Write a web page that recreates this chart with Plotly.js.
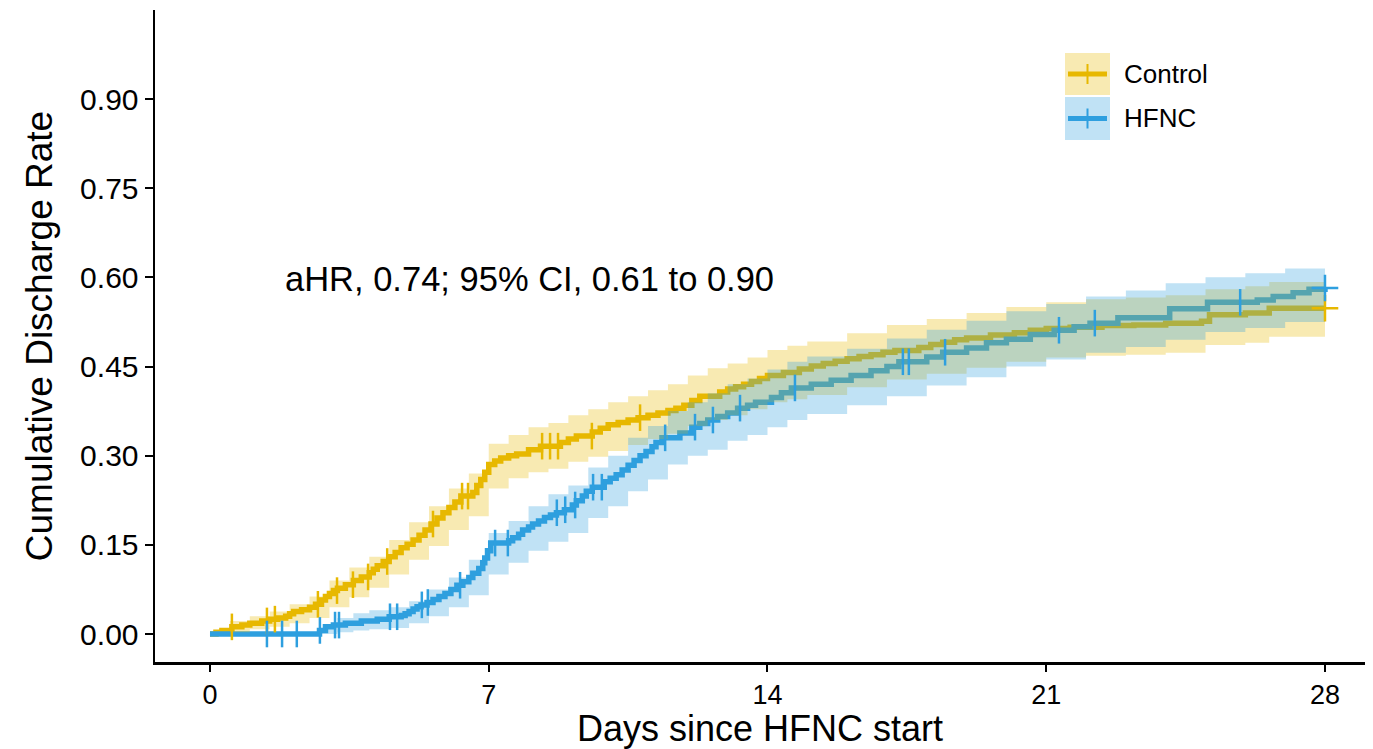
<!DOCTYPE html>
<html>
<head>
<meta charset="utf-8">
<script src="https://cdn.plot.ly/plotly-3.0.1.min.js"></script>
<style>
html,body{margin:0;padding:0;background:#fff;}
#chart{width:1373px;height:749px;}
</style>
</head>
<body>
<div id="chart"></div>
<script>
// ---- data ----
const xTickVals = [0, 7, 14, 21, 28];
const yTickVals = [0, 0.15, 0.30, 0.45, 0.60, 0.75, 0.90];

const controlTime = [0,0.15,0.3,0.55,0.8,1.0,1.3,1.5,1.7,1.9,2.0,2.1,2.3,2.5,2.65,2.8,2.9,3.0,3.1,3.2,3.4,3.6,3.8,4.0,4.1,4.2,4.35,4.5,4.65,4.8,4.95,5.1,5.25,5.4,5.55,5.7,5.85,6.0,6.15,6.3,6.6,6.7,6.8,6.9,7.0,7.15,7.3,7.5,7.7,8.0,8.3,8.8,9.0,9.2,9.6,9.8,10.0,10.25,10.5,10.75,11.0,11.25,11.5,11.7,11.9,12.1,12.3,12.8,13.0,13.2,13.4,13.6,13.8,14.0,14.4,14.8,15.1,15.4,15.7,16.0,16.3,16.6,16.9,17.2,17.8,18.1,18.4,18.7,19.0,19.6,20.2,20.6,21.0,21.6,22.4,23.2,24.0,24.9,25.1,26.0,26.6,28];
const controlRate = [0,0.003,0.006,0.012,0.015,0.018,0.022,0.025,0.027,0.03,0.034,0.038,0.041,0.045,0.05,0.057,0.063,0.068,0.073,0.077,0.083,0.09,0.096,0.103,0.109,0.115,0.122,0.13,0.137,0.145,0.151,0.158,0.166,0.175,0.185,0.195,0.204,0.213,0.222,0.232,0.238,0.25,0.26,0.272,0.285,0.291,0.296,0.3,0.303,0.31,0.316,0.322,0.328,0.333,0.34,0.346,0.352,0.356,0.36,0.364,0.368,0.372,0.376,0.38,0.385,0.393,0.4,0.407,0.412,0.416,0.42,0.425,0.43,0.435,0.44,0.446,0.451,0.455,0.459,0.463,0.467,0.47,0.474,0.477,0.482,0.487,0.491,0.495,0.498,0.503,0.507,0.511,0.514,0.516,0.519,0.52,0.523,0.526,0.537,0.54,0.548,0.548];

const hfncTime = [0,2.75,2.9,3.1,3.4,3.8,4.2,4.5,4.8,4.9,5.0,5.1,5.2,5.3,5.45,5.6,5.75,5.9,6.05,6.2,6.35,6.5,6.6,6.75,6.85,6.9,6.97,7.05,7.5,7.6,7.75,7.85,8.0,8.1,8.25,8.4,8.55,8.7,8.9,9.1,9.2,9.35,9.45,9.6,9.9,10.05,10.2,10.35,10.5,10.65,10.8,10.95,11.1,11.2,11.35,11.8,12.1,12.3,12.5,12.75,13.0,13.25,13.5,13.7,14.1,14.35,14.6,15.1,15.6,16.1,16.6,17.0,17.3,18.0,18.4,19.0,19.5,20.0,20.6,21.2,21.7,22.1,22.8,24.1,25.05,26.3,26.7,27.2,27.6,28];
const hfncRate = [0,0.006,0.012,0.015,0.018,0.022,0.025,0.029,0.031,0.034,0.038,0.042,0.046,0.049,0.053,0.058,0.063,0.068,0.075,0.082,0.088,0.095,0.102,0.11,0.12,0.128,0.14,0.153,0.157,0.162,0.168,0.175,0.18,0.185,0.19,0.196,0.2,0.204,0.209,0.217,0.224,0.232,0.24,0.247,0.256,0.262,0.268,0.276,0.284,0.292,0.3,0.307,0.315,0.322,0.33,0.338,0.348,0.354,0.36,0.366,0.372,0.38,0.385,0.39,0.398,0.406,0.414,0.42,0.427,0.435,0.443,0.45,0.458,0.466,0.474,0.481,0.49,0.496,0.504,0.511,0.517,0.523,0.532,0.547,0.558,0.562,0.568,0.574,0.58,0.582];

const controlCensor = [0.55,1.43,1.63,2.71,3.19,3.59,3.97,4.45,5.60,6.33,6.48,8.34,8.54,8.74,9.59,10.8,28];
const hfncCensor = [1.43,1.81,2.18,2.76,3.14,3.24,4.52,4.70,5.32,5.47,6.28,7.16,7.48,8.71,8.92,9.17,9.62,9.84,11.43,12.18,12.63,13.31,14.69,17.40,17.55,18.46,21.32,22.22,25.87,28];

const controlBandTime = [0,0.5,1.0,1.5,2.0,2.5,3.0,3.5,4.0,4.5,5.0,5.5,6.0,6.5,7.0,7.5,8.0,8.5,9.0,9.5,10.0,10.5,11.0,11.5,12.0,12.5,13.0,13.5,14.0,14.5,15.0,16.0,17.0,18.0,19.0,20.0,21.0,22.0,23.0,24.0,25.0,26.0,26.6,28];
const controlLower = [0,0.003,0.008,0.012,0.018,0.027,0.045,0.062,0.078,0.1,0.125,0.148,0.175,0.198,0.245,0.262,0.272,0.278,0.29,0.298,0.308,0.318,0.328,0.337,0.35,0.36,0.368,0.378,0.39,0.395,0.402,0.415,0.428,0.438,0.448,0.458,0.465,0.468,0.47,0.473,0.486,0.49,0.5,0.5];
const controlUpper = [0,0.022,0.03,0.038,0.05,0.063,0.09,0.112,0.13,0.158,0.188,0.215,0.245,0.27,0.32,0.335,0.348,0.355,0.368,0.378,0.39,0.4,0.41,0.42,0.435,0.447,0.455,0.465,0.478,0.485,0.492,0.506,0.52,0.53,0.54,0.55,0.558,0.563,0.566,0.57,0.58,0.585,0.592,0.592];

const hfncBandTime = [0,2.7,2.9,3.2,3.6,4.0,4.5,5.0,5.5,6.0,6.5,7.0,7.5,8.0,8.5,9.0,9.5,10.0,10.5,11.0,11.5,12.0,12.5,13.0,13.5,14.0,14.5,15.0,16.0,17.0,18.0,19.0,20.0,21.0,22.0,23.0,24.0,25.0,26.0,27.0,28];
const hfncLower = [0,0,0,0.003,0.006,0.008,0.01,0.018,0.03,0.045,0.065,0.1,0.12,0.14,0.155,0.17,0.195,0.215,0.24,0.26,0.285,0.3,0.31,0.325,0.335,0.348,0.36,0.37,0.385,0.4,0.418,0.432,0.45,0.462,0.473,0.483,0.495,0.508,0.515,0.525,0.535];
const hfncUpper = [0,0.003,0.015,0.027,0.035,0.04,0.045,0.055,0.075,0.095,0.125,0.17,0.19,0.215,0.235,0.25,0.28,0.3,0.33,0.35,0.375,0.39,0.405,0.42,0.43,0.445,0.458,0.467,0.48,0.497,0.512,0.527,0.543,0.555,0.568,0.578,0.59,0.6,0.607,0.615,0.626];

// ---- styling ----
const yellow = '#E7B800';
const blue = '#2E9FDF';
const yellowFill = 'rgba(231,184,0,0.3)';
const blueFill = 'rgba(46,159,223,0.3)';
const FONT = 'Liberation Sans, Arial, Helvetica, sans-serif';
const LINE_W = 5.5;

function stepValue(times, vals, t) {
  let v = vals[0];
  for (let i = 0; i < times.length; i++) { if (times[i] <= t) v = vals[i]; }
  return v;
}
function censorSymbols(times) {
  return times.map(t => (t >= 28 ? 'cross-thin' : 'line-ns'));
}

const traces = [
  {x: controlTime, y: controlRate, mode: 'lines', line: {color: yellow, width: LINE_W, shape: 'hv'}, showlegend: false, hoverinfo: 'skip'},
  {x: hfncTime, y: hfncRate, mode: 'lines', line: {color: blue, width: LINE_W, shape: 'hv'}, showlegend: false, hoverinfo: 'skip'},
  {x: controlBandTime, y: controlLower, mode: 'lines', line: {width: 0, shape: 'hv'}, showlegend: false, hoverinfo: 'skip'},
  {x: controlBandTime, y: controlUpper, mode: 'lines', line: {width: 0, shape: 'hv'}, fill: 'tonexty', fillcolor: yellowFill, showlegend: false, hoverinfo: 'skip'},
  {x: hfncBandTime, y: hfncLower, mode: 'lines', line: {width: 0, shape: 'hv'}, showlegend: false, hoverinfo: 'skip'},
  {x: hfncBandTime, y: hfncUpper, mode: 'lines', line: {width: 0, shape: 'hv'}, fill: 'tonexty', fillcolor: blueFill, showlegend: false, hoverinfo: 'skip'},
  {x: controlCensor, y: controlCensor.map(t => stepValue(controlTime, controlRate, t)), mode: 'markers',
   marker: {symbol: censorSymbols(controlCensor), size: 19, color: yellow, line: {color: yellow, width: 2.5}}, showlegend: false, hoverinfo: 'skip'},
  {x: hfncCensor, y: hfncCensor.map(t => stepValue(hfncTime, hfncRate, t)), mode: 'markers',
   marker: {symbol: censorSymbols(hfncCensor), size: 19, color: blue, line: {color: blue, width: 2.5}}, showlegend: false, hoverinfo: 'skip'}
];

// legend (drawn manually to mimic ggplot keys)
function px2x(p){ return (p - 155) / 1210; }
function px2y(p){ return (662 - p) / 652; }
const legendItems = [
  {name: 'Control', color: yellow, fill: yellowFill, top: 53, bottom: 95},
  {name: 'HFNC', color: blue, fill: blueFill, top: 97, bottom: 140}
];
const shapes = [];
const annotations = [];
legendItems.forEach(it => {
  const mid = (it.top + it.bottom) / 2;
  shapes.push({type: 'rect', xref: 'paper', yref: 'paper', x0: px2x(1065), x1: px2x(1110), y0: px2y(it.bottom), y1: px2y(it.top), fillcolor: it.fill, line: {width: 0}});
  shapes.push({type: 'line', xref: 'paper', yref: 'paper', x0: px2x(1068), x1: px2x(1107), y0: px2y(mid), y1: px2y(mid), line: {color: it.color, width: 5}});
  shapes.push({type: 'line', xref: 'paper', yref: 'paper', x0: px2x(1087.5), x1: px2x(1087.5), y0: px2y(mid + 10), y1: px2y(mid - 10), line: {color: it.color, width: 2}});
  annotations.push({xref: 'paper', yref: 'paper', x: px2x(1122), y: px2y(mid), xanchor: 'left', yanchor: 'middle', text: it.name, showarrow: false, font: {family: FONT, size: 26, color: '#000'}});
});
annotations.push({xref: 'x', yref: 'y', x: 1.83, y: 0.597, xanchor: 'left', yanchor: 'middle', text: 'aHR, 0.74; 95% CI, 0.61 to 0.90', showarrow: false, font: {family: FONT, size: 34.5, color: '#000'}});

const layout = {
  width: 1373, height: 749,
  margin: {l: 155, r: 8, t: 10, b: 87},
  paper_bgcolor: '#fff', plot_bgcolor: '#fff',
  font: {family: FONT, color: '#000'},
  showlegend: false,
  xaxis: {
    range: [-1.381, 29.005], tickvals: xTickVals, ticktext: xTickVals.map(String),
    showgrid: false, zeroline: false, showline: true, linecolor: '#000', linewidth: 2.5,
    ticks: 'outside', ticklen: 7, tickwidth: 2, tickcolor: '#000',
    tickfont: {family: FONT, size: 27, color: '#000'},
    title: {text: 'Days since HFNC start', font: {family: FONT, size: 36, color: '#000'}, standoff: 6}
  },
  yaxis: {
    range: [-0.0471, 1.0498], tickvals: yTickVals, tickformat: '.2f',
    showgrid: false, zeroline: false, showline: true, linecolor: '#000', linewidth: 2.5,
    ticks: 'outside', ticklen: 8, tickwidth: 2, tickcolor: '#000',
    tickfont: {family: FONT, size: 30, color: '#000'},
    title: {text: 'Cumulative Discharge Rate', font: {family: FONT, size: 37, color: '#000'}, standoff: 16}
  },
  shapes: shapes,
  annotations: annotations
};

Plotly.newPlot('chart', traces, layout, {displayModeBar: false, staticPlot: true});
</script>
</body>
</html>
